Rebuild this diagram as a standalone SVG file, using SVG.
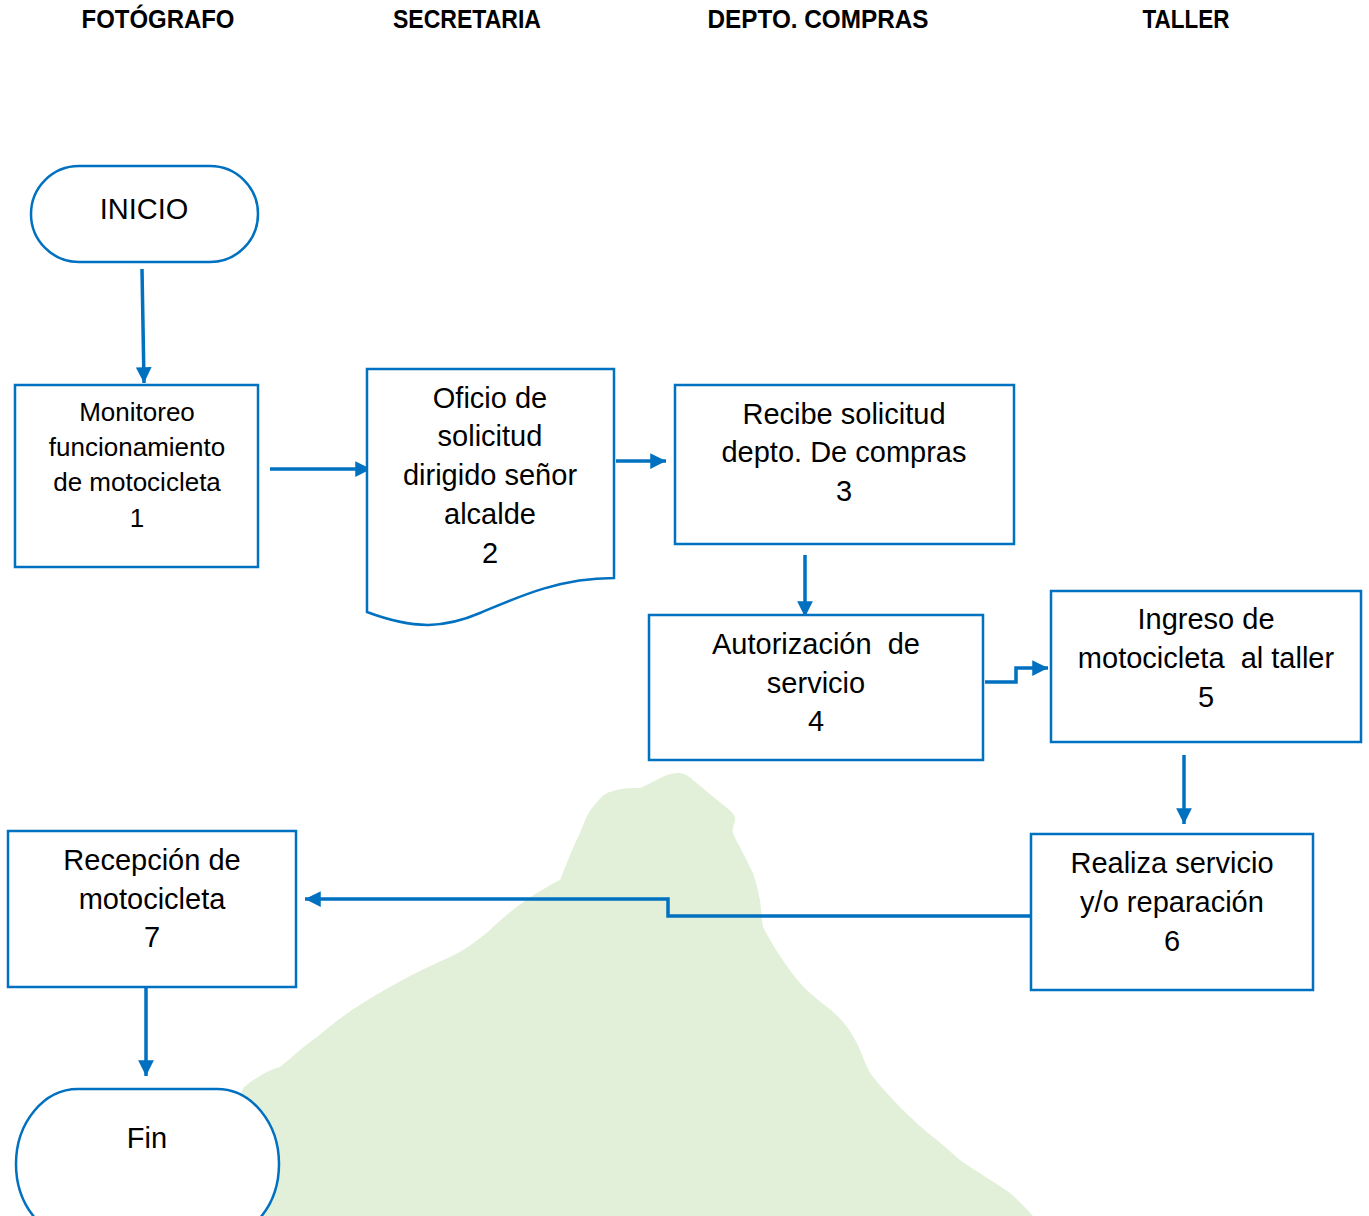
<svg xmlns="http://www.w3.org/2000/svg" width="1369" height="1216" viewBox="0 0 1369 1216">
<defs>
<style>
.hdr{font-family:"Liberation Sans",Arial,sans-serif;font-weight:bold;font-size:25px;fill:#000;text-anchor:middle}
.t{font-family:"Liberation Sans",Arial,sans-serif;font-size:29px;fill:#000;text-anchor:middle}
.t1{font-family:"Liberation Sans",Arial,sans-serif;font-size:26px;fill:#000;text-anchor:middle}
.box{fill:#fff;stroke:#0070C0;stroke-width:2.5}
.con{fill:none;stroke:#0070C0;stroke-width:3.5}
</style>
<marker id="ah" viewBox="0 0 10 10" refX="10" refY="5" markerWidth="4.5" markerHeight="4.5" markerUnits="strokeWidth" orient="auto">
<path d="M0,0 L10,5 L0,10 z" fill="#0070C0"/>
</marker>
</defs>
<rect width="1369" height="1216" fill="#fff"/>
<path id="bg" fill="#E2F0D9" d="M200,1216 L243,1088 C255,1078 268,1070 280,1067 C295,1055 305,1045 317,1037 C335,1022 348,1012 363,1003 C375,995 385,990 397,983 C415,973 432,965 450,957 C465,950 478,940 490,930 C505,915 530,895 560,880 C568,860 574,845 580,833 C585,820 588,812 593,807 C600,798 605,793 610,792 C620,788 630,788 640,788 C648,785 654,781 660,778 C668,774 674,773 680,773 C686,774 690,777 693,780 C705,790 716,799 727,808 C732,812 736,816 735,820 C734,826 732,829 733,833 C735,838 737,842 740,847 C745,857 749,865 753,873 C757,885 759,895 760,900 C761,910 762,920 763,927 C775,950 795,980 810,993 C818,1000 822,1003 827,1007 C835,1013 842,1020 847,1027 C853,1035 857,1043 860,1050 C864,1060 868,1070 873,1077 C882,1088 891,1098 900,1107 C912,1119 925,1131 937,1140 C945,1147 952,1153 960,1160 C977,1172 995,1182 1010,1193 C1018,1200 1026,1208 1033,1216 Z"/>
<g id="headers">
<text class="hdr" x="158" y="28" textLength="153" lengthAdjust="spacingAndGlyphs">FOTÓGRAFO</text>
<text class="hdr" x="467" y="28" textLength="148" lengthAdjust="spacingAndGlyphs">SECRETARIA</text>
<text class="hdr" x="818" y="28" textLength="221" lengthAdjust="spacingAndGlyphs">DEPTO. COMPRAS</text>
<text class="hdr" x="1186" y="28" textLength="87" lengthAdjust="spacingAndGlyphs">TALLER</text>
</g>
<g id="connectors">
<path class="con" d="M142,269 L144,383" marker-end="url(#ah)"/>
<path class="con" d="M270,469 L371,469" marker-end="url(#ah)"/>
<path class="con" d="M616,461 L666,461" marker-end="url(#ah)"/>
<path class="con" d="M805,555 L805,617" marker-end="url(#ah)"/>
<path class="con" d="M985,682 L1016,682 L1016,668 L1048,668" marker-end="url(#ah)"/>
<path class="con" d="M1184,755 L1184,824" marker-end="url(#ah)"/>
<path class="con" d="M1031,916 L668,916 L668,899 L305,899" marker-end="url(#ah)"/>
<path class="con" d="M146,988 L146,1076" marker-end="url(#ah)"/>
</g>
<g id="inicio">
<rect class="box" x="31" y="166" width="227" height="96" rx="48" ry="48"/>
<text class="t" x="144" y="219">INICIO</text>
</g>
<g id="n1">
<rect class="box" x="15" y="385" width="243" height="182"/>
<text class="t1" x="137" y="421">Monitoreo</text>
<text class="t1" x="137" y="456">funcionamiento</text>
<text class="t1" x="137" y="491">de motocicleta</text>
<text class="t1" x="137" y="527">1</text>
</g>
<g id="n2">
<path class="box" d="M367,369 L614,369 L614,578 C560,578 520,596 480,613 C445,628 415,630 367,612 Z"/>
<text class="t" x="490" y="408">Oficio de</text>
<text class="t" x="490" y="446">solicitud</text>
<text class="t" x="490" y="485">dirigido señor</text>
<text class="t" x="490" y="524">alcalde</text>
<text class="t" x="490" y="563">2</text>
</g>
<g id="n3">
<rect class="box" x="675" y="385" width="339" height="159"/>
<text class="t" x="844" y="424">Recibe solicitud</text>
<text class="t" x="844" y="462">depto. De compras</text>
<text class="t" x="844" y="501">3</text>
</g>
<g id="n4">
<rect class="box" x="649" y="615" width="334" height="145"/>
<text class="t" x="816" y="654" xml:space="preserve">Autorización  de</text>
<text class="t" x="816" y="693">servicio</text>
<text class="t" x="816" y="731">4</text>
</g>
<g id="n5">
<rect class="box" x="1051" y="591" width="310" height="151"/>
<text class="t" x="1206" y="629">Ingreso de</text>
<text class="t" x="1206" y="668" xml:space="preserve">motocicleta  al taller</text>
<text class="t" x="1206" y="707">5</text>
</g>
<g id="n6">
<rect class="box" x="1031" y="834" width="282" height="156"/>
<text class="t" x="1172" y="873">Realiza servicio</text>
<text class="t" x="1172" y="912">y/o reparación</text>
<text class="t" x="1172" y="951">6</text>
</g>
<g id="n7">
<rect class="box" x="8" y="831" width="288" height="156"/>
<text class="t" x="152" y="870">Recepción de</text>
<text class="t" x="152" y="909">motocicleta</text>
<text class="t" x="152" y="947">7</text>
</g>
<g id="fin">
<rect class="box" x="16" y="1089" width="263" height="150" rx="62" ry="75"/>
<text class="t" x="147" y="1148">Fin</text>
</g>
</svg>
